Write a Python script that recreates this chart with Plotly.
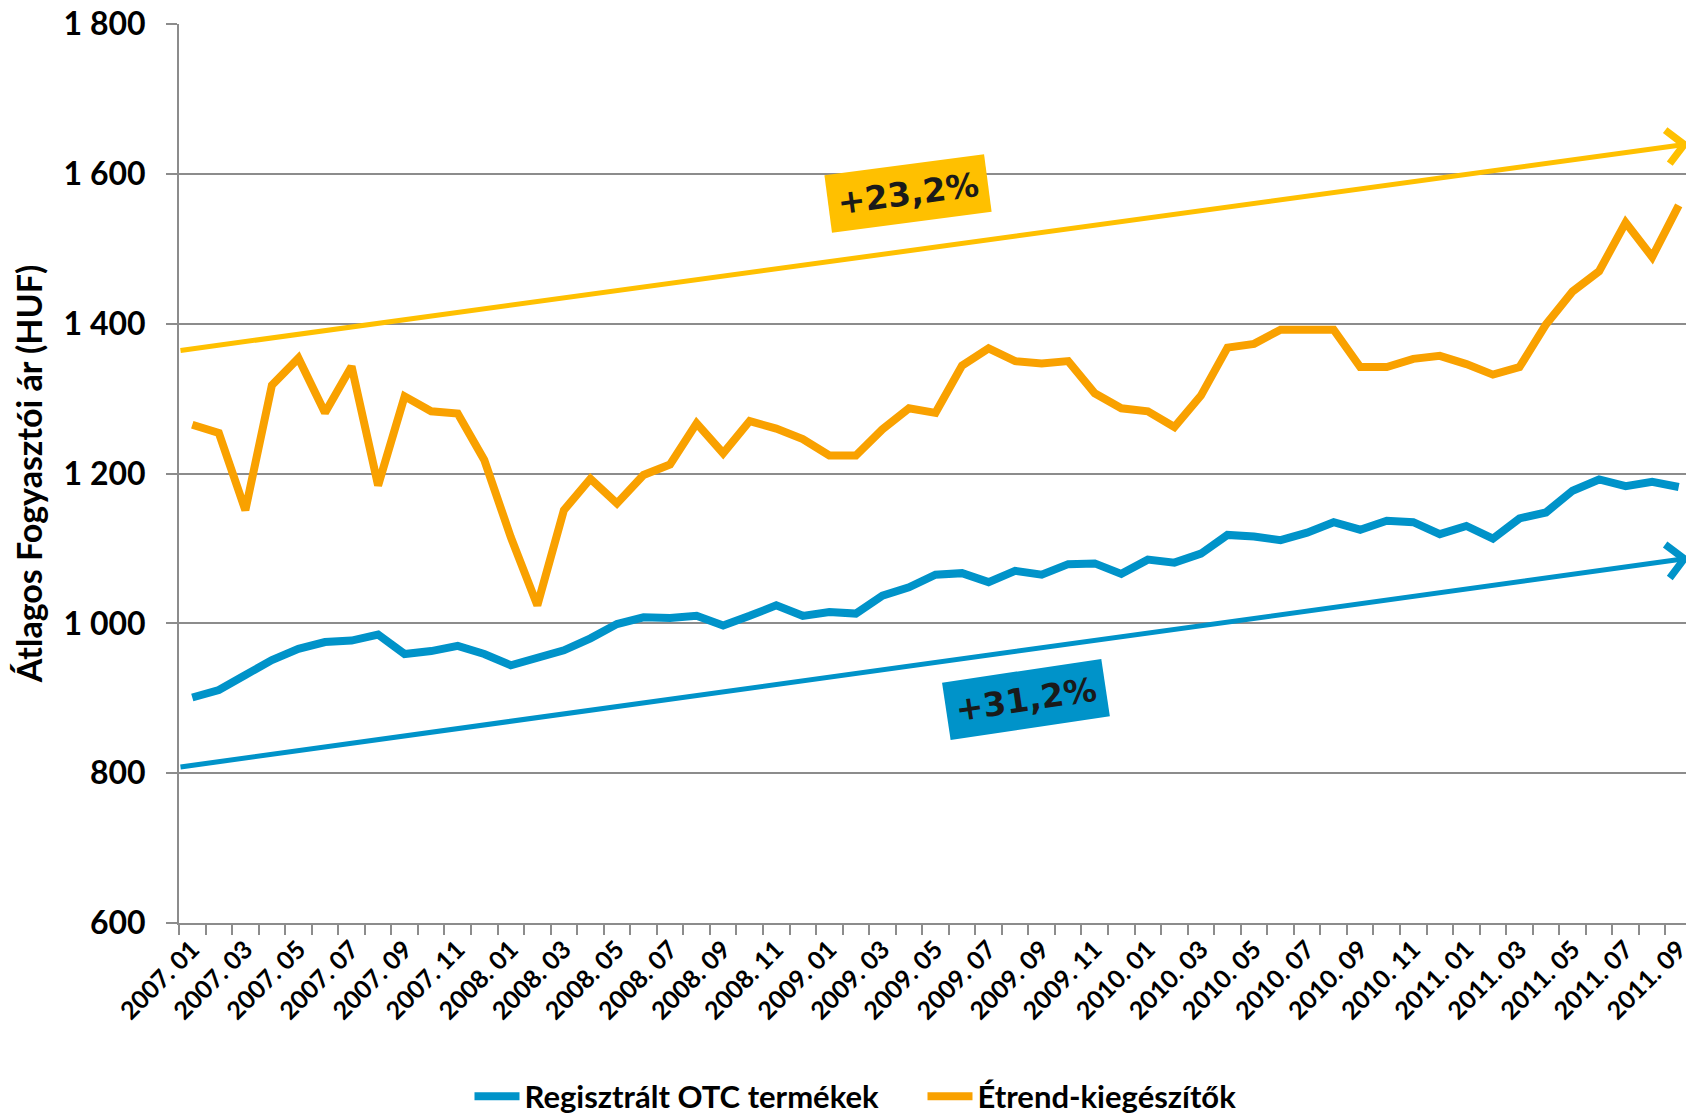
import plotly.graph_objects as go

# ---- data ----
months = []
for yr in range(2007, 2012):
    for m in range(1, 13):
        if yr == 2011 and m > 9:
            break
        months.append(f"{yr}. {m:02d}")

otc = [901, 911, 931, 951, 966, 975, 977, 985, 959, 963, 970, 959,
       944, 954, 964, 980, 999, 1008, 1007, 1010, 997, 1010, 1024, 1010,
       1015, 1013, 1037, 1048, 1065, 1067, 1055, 1070, 1065, 1079, 1080, 1066,
       1085, 1081, 1093, 1118, 1116, 1111, 1121, 1135, 1125, 1137, 1135, 1119,
       1130, 1113, 1140, 1148, 1177, 1192, 1183, 1189, 1182]

etrend = [1265, 1254, 1151, 1318, 1354, 1281, 1343, 1184, 1303, 1283, 1280, 1218,
          1115, 1024, 1151, 1193, 1160, 1198, 1212, 1267, 1227, 1270, 1260, 1246,
          1224, 1224, 1259, 1287, 1281, 1344, 1367, 1350, 1347, 1350, 1307, 1287,
          1283, 1262, 1304, 1368, 1373, 1392, 1392, 1392, 1342, 1342, 1353, 1357,
          1346, 1332, 1342, 1399, 1443, 1470, 1535, 1489, 1558]

trend_etrend = [1364, 1640]   # start, end of the yellow trend arrow
trend_otc = [808, 1087]       # start, end of the blue trend arrow
label_etrend = "+23,2%"
label_otc = "+31,2%"

y_ticks = [600, 800, 1000, 1200, 1400, 1600, 1800]
y_ticktext = ["600", "800", "1 000", "1 200", "1 400", "1 600", "1 800"]

name_otc = "Regisztrált OTC termékek"
name_etrend = "Étrend-kiegészítők"

BLUE = "#0093C9"
ORANGE = "#F9A100"
YELLOW = "#FFC000"
GRID = "#8C8C8C"
FONT = "Lato"

n = len(months)
xs = list(range(n))
x_first, x_last = -0.5, n - 0.5
x_head = n - 0.6   # arrow tip sits just inside the right edge

fig = go.Figure()
fig.add_trace(go.Scatter(x=xs, y=otc, mode="lines", name=name_otc,
                         line=dict(color=BLUE, width=8)))
fig.add_trace(go.Scatter(x=xs, y=etrend, mode="lines", name=name_etrend,
                         line=dict(color=ORANGE, width=8)))

# trend arrows
for vals, col in [(trend_etrend, YELLOW), (trend_otc, BLUE)]:
    fig.add_annotation(x=x_head, y=vals[1], ax=x_first, ay=vals[0],
                       xref="x", yref="y", axref="x", ayref="y",
                       text="", showarrow=True, arrowhead=4, arrowsize=1.3,
                       arrowwidth=5, arrowcolor=col, standoff=0, startstandoff=0)

# percentage labels
fig.add_annotation(x=26.96, y=1574, xref="x", yref="y", text=f"<b>{label_etrend}</b>",
                   showarrow=False, textangle=-7.5, bgcolor=YELLOW, borderpad=9,
                   font=dict(family="DejaVu Sans", size=33, color="#1a1a1a"))
fig.add_annotation(x=31.4, y=898, xref="x", yref="y", text=f"<b>{label_otc}</b>",
                   showarrow=False, textangle=-8.5, bgcolor=BLUE, borderpad=9,
                   font=dict(family="DejaVu Sans", size=33, color="#1a1a1a"))

tick_font = dict(family=FONT, size=25, color="black", weight="bold")

fig.update_layout(
    width=1686, height=1109,
    margin=dict(l=171, r=2, t=16, b=194, autoexpand=False),
    paper_bgcolor="white", plot_bgcolor="white",
    showlegend=True,
    legend=dict(orientation="h", x=0.192, xanchor="left", y=-0.193, yanchor="middle",
                font=dict(family=FONT, size=31, color="black", weight="bold"),
                itemwidth=45, entrywidthmode="pixels", entrywidth=393, tracegroupgap=0),
    xaxis=dict(range=[x_first, x_last], tickmode="array", automargin=False,
               tickvals=xs[::2], ticktext=months[::2], tickangle=-45,
               tickfont=tick_font, ticks="", showgrid=False, zeroline=False,
               ticklabeloverflow="allow",
               showline=True, linecolor=GRID, linewidth=2,
               minor=dict(tickmode="array", tickvals=[i - 0.5 for i in range(n + 1)],
                          ticks="outside", ticklen=10, tickwidth=2, tickcolor=GRID,
                          showgrid=False)),
    yaxis=dict(range=[600, 1800], tickmode="array", tickvals=y_ticks, ticktext=y_ticktext,
               automargin=False, ticklabeloverflow="allow",
               tickfont=dict(family=FONT, size=32, color="black", weight="bold"),
               ticks="outside", ticklen=11, tickwidth=2, tickcolor=GRID,
               ticklabelstandoff=14,
               showgrid=True, gridcolor=GRID, gridwidth=2, zeroline=False,
               showline=True, linecolor=GRID, linewidth=2,
               title=dict(text="Átlagos Fogyasztói ár (HUF)", standoff=20,
                          font=dict(family=FONT, size=34, color="black", weight="bold"))),
)

fig.write_html("out.html")
